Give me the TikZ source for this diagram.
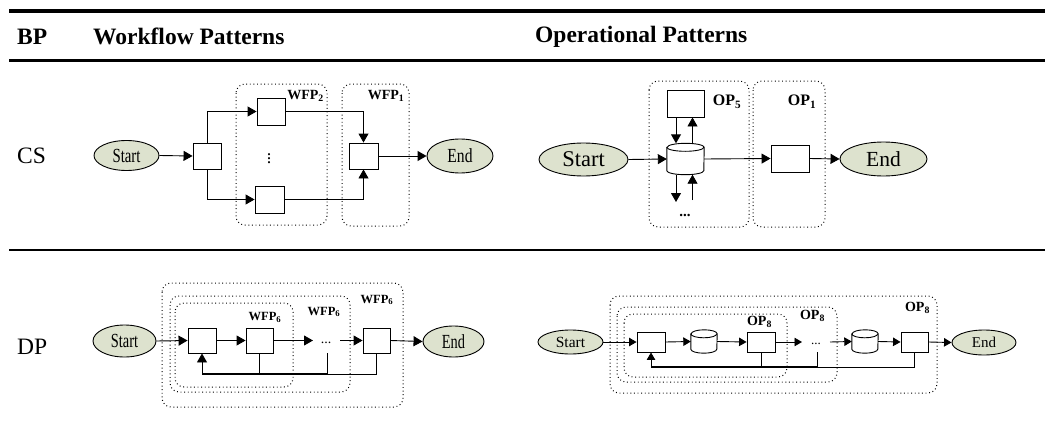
\documentclass[tikz,border=0pt]{standalone}
\usepackage{fontspec}
\setmainfont{Liberation Serif}
\usepackage{graphicx}
\usetikzlibrary{shapes.geometric,arrows.meta}
\definecolor{termfill}{RGB}{221,226,206}
\newcommand\cnd[2]{\scalebox{#1}[1]{#2}}
% cylinder drawn on an invisible rectangle node: #1 node name, #2 half width
\newcommand\cyldraw[2]{%
  \draw[ln,fill=white] ([yshift=-4pt]#1.north west) -- ([yshift=4pt]#1.south west)
    arc[start angle=180,end angle=360,x radius=#2,y radius=4pt]
    -- ([yshift=-4pt]#1.north east)
    arc[start angle=0,end angle=180,x radius=#2,y radius=4pt] -- cycle;
  \draw[ln] ([yshift=-4pt]#1.north west)
    arc[start angle=180,end angle=360,x radius=#2,y radius=4pt];
}
\tikzset{
  ln/.style={line width=0.9pt},
  arr/.style={ln,-{Triangle[length=9pt,width=10pt]}},
  sarr/.style={ln,-{Triangle[length=7.5pt,width=8.5pt]}},
  box/.style={draw,fill=white,line width=0.9pt,inner sep=0pt},
  cylbox/.style={inner sep=0pt},
  term/.style={ellipse,draw,fill=termfill,line width=0.9pt,inner sep=0pt},
  grp/.style={line width=1pt,dash pattern=on 0.9pt off 2.7pt,rounded corners=9pt},
  glab/.style={inner sep=0pt,font=\bfseries\fontsize{#1}{#1}\selectfont},
  head/.style={anchor=west,inner sep=0pt,font=\bfseries\fontsize{23.5}{28}\selectfont},
  rowlab/.style={anchor=west,inner sep=0pt,font=\fontsize{23.5}{28}\selectfont},
  rule/.style={line width=#1}
}
\begin{document}
\begin{tikzpicture}[x=1pt,y=-1pt]
\useasboundingbox (0,0) rectangle (1045,439);
% rules
\coordinate (r1a) at (9,11);   \coordinate (r1b) at (1045,11);
\coordinate (r2a) at (9,60.7); \coordinate (r2b) at (1045,60.7);
\coordinate (r3a) at (9,249.8);\coordinate (r3b) at (1045,249.8);
\draw[rule=3.3pt] (r1a) -- (r1b);
\draw[rule=2.7pt] (r2a) -- (r2b);
\draw[rule=1.8pt] (r3a) -- (r3b);
% header
\node[head] (hbp) at (17,36.5) {BP};
\node[head] (hwf) at (93,36.5) {Workflow Patterns};
\node[head] (hop) at (535,36.5) {Operational Patterns};
\node[rowlab] (lcs) at (17,156) {CS};
\node[rowlab] (ldp) at (17,346.5) {DP};

% ---------------- CS workflow ----------------
\draw[grp] (236,84) rectangle (327,225);
\draw[grp] (342,84) rectangle (409,226);
\node[glab=14] (lw2) at (305.5,95.5) {WFP\textsubscript{2}};
\node[glab=14] (lw1) at (386,96) {WFP\textsubscript{1}};
\node[term,minimum width=65pt,minimum height=30pt] (s1) at (126.5,155.5)
  {\fontsize{20}{20}\selectfont\cnd{0.74}{Start}};
\node[box,minimum width=28pt,minimum height=26pt] (a1) at (207,156) {};
\node[box,minimum width=28pt,minimum height=27pt] (a2) at (271,111.5) {};
\node[box,minimum width=29pt,minimum height=27pt] (a3) at (269.5,199.5) {};
\node[box,minimum width=29pt,minimum height=26pt] (a4) at (363.5,156) {};
\node[term,minimum width=66pt,minimum height=34pt] (e1) at (460,156)
  {\fontsize{20}{20}\selectfont\cnd{0.78}{End}};
\node[inner sep=0pt,font=\fontsize{18}{18}\selectfont] (vd) at (269,156) {$\vdots$};
\draw[arr] (s1.east) -- (a1.west);
\draw[arr] (a1.north) |- (a2.west);
\draw[arr] (a1.south) |- (a3.west);
\draw[arr] (a2.east) -| (a4.north);
\draw[arr] (a3.east) -| (a4.south);
\draw[arr] (a4.east) -- (e1.west);

% ---------------- CS operational ----------------
\draw[grp] (649,81) rectangle (749,227);
\draw[grp] (753,81) rectangle (825,227);
\node[glab=16] (lo5) at (727,101.5) {OP\textsubscript{5}};
\node[glab=16] (lo1) at (802,101.5) {OP\textsubscript{1}};
\node[term,minimum width=89pt,minimum height=33pt] (s2) at (583.5,159.5)
  {\fontsize{22.5}{22.5}\selectfont Start};
\node[cylbox,minimum width=37pt,minimum height=31pt] (cy) at (685.5,159) {};
\node[box,minimum width=37pt,minimum height=27pt] (t5) at (685.5,103.5) {};
\node[box,minimum width=38pt,minimum height=27pt] (b5) at (790,158.5) {};
\node[term,minimum width=87pt,minimum height=34pt] (e2) at (883.5,159)
  {\fontsize{21.5}{21.5}\selectfont End};
\node[inner sep=0pt,font=\bfseries\fontsize{15}{15}\selectfont] (od) at (685,215) {...};
\coordinate (dn) at (676,202);
\coordinate (up) at (692.5,200);
\draw[arr] (s2.east) -- (cy.west);
\cyldraw{cy}{18.5pt}
\draw[arr] ([xshift=-9.5pt]t5.south) -- ([xshift=-9.5pt]cy.north);
\draw[arr] ([xshift=7pt]cy.north) -- ([xshift=7pt]t5.south);
\draw[arr] ([xshift=-9.5pt]cy.south) -- (dn);
\draw[arr] (up) -- ([xshift=7pt]cy.south);
\draw[arr] (cy.east) -- (b5.west);
\draw[arr] (b5.east) -- (e2.west);

% ---------------- DP workflow ----------------
\draw[grp] (162,283) rectangle (403,407);
\draw[grp] (170,296) rectangle (350,392);
\draw[grp] (175,303) rectangle (293,387);
\node[glab=12.5] (lw6a) at (265,317.5) {WFP\textsubscript{6}};
\node[glab=12.5] (lw6b) at (324,312) {WFP\textsubscript{6}};
\node[glab=12.5] (lw6c) at (377,300) {WFP\textsubscript{6}};
\node[term,minimum width=63pt,minimum height=32pt] (s3) at (124.5,341)
  {\fontsize{20}{20}\selectfont\cnd{0.72}{Start}};
\node[box,minimum width=28pt,minimum height=25pt] (c1) at (202,340.5) {};
\node[box,minimum width=27pt,minimum height=25pt] (c2) at (259.5,340.5) {};
\node[box,minimum width=27pt,minimum height=25pt] (c3) at (376.5,340.5) {};
\node[term,minimum width=61pt,minimum height=31pt] (e3) at (453.5,341.5)
  {\fontsize{20}{20}\selectfont\cnd{0.72}{End}};
\node[inner sep=0pt,font=\fontsize{14}{14}\selectfont] (dd3) at (326,343) {...};
\coordinate (w1) at (313,340.5);
\coordinate (w2) at (340,340.5);
\coordinate (fl) at (202,374);
\coordinate (fd) at (327,353);
\draw[arr] (s3.east) -- (c1.west);
\draw[arr] (c1.east) -- (c2.west);
\draw[arr] (c2.east) -- (w1);
\draw[arr] (w2) -- (c3.west);
\draw[arr] (c3.east) -- (e3.west);
\draw[arr] (c3.south) |- (fl) -- (c1.south);
\draw[ln] (c2.south) -- (c2.south |- fl);
\draw[ln] (fd) -- (fd |- fl);
\draw[line width=1.6pt] (fl) -- (fd |- fl);

% ---------------- DP operational ----------------
\draw[grp] (610,296) rectangle (937,393);
\draw[grp] (617,307) rectangle (837,382);
\draw[grp] (624,314) rectangle (787,377);
\node[glab=14] (lo8a) at (759.5,322) {OP\textsubscript{8}};
\node[glab=14] (lo8b) at (812.5,316) {OP\textsubscript{8}};
\node[glab=14] (lo8c) at (917.5,308) {OP\textsubscript{8}};
\node[term,minimum width=65pt,minimum height=24pt] (s4) at (570.5,342)
  {\fontsize{15.5}{15.5}\selectfont Start};
\node[box,minimum width=28pt,minimum height=20pt] (d1) at (651,342) {};
\node[cylbox,minimum width=26pt,minimum height=23pt] (q1) at (704,341.5) {};
\node[box,minimum width=28pt,minimum height=20pt] (d2) at (761,342) {};
\node[cylbox,minimum width=26pt,minimum height=23pt] (q2) at (865,341.5) {};
\node[box,minimum width=27pt,minimum height=20pt] (d3) at (914.5,342) {};
\node[term,minimum width=64pt,minimum height=25pt] (e4) at (984,342.5)
  {\fontsize{15}{15}\selectfont End};
\node[inner sep=0pt,font=\fontsize{13}{13}\selectfont] (dd4) at (816,344) {...};
\coordinate (v1) at (802,342);
\coordinate (v2) at (830,342);
\coordinate (gl) at (651,367);
\coordinate (gd) at (817,352);
\cyldraw{q1}{13pt}
\cyldraw{q2}{13pt}
\draw[sarr] (s4.east) -- (d1.west);
\draw[sarr] (d1.east) -- (q1.west);
\draw[sarr] (q1.east) -- (d2.west);
\draw[sarr] (d2.east) -- (v1);
\draw[sarr] (v2) -- (q2.west);
\draw[sarr] (q2.east) -- (d3.west);
\draw[sarr] (d3.east) -- (e4.west);
\draw[sarr] (d3.south) |- (gl) -- (d1.south);
\draw[ln] (d2.south) -- (d2.south |- gl);
\draw[ln] (gd) -- (gd |- gl);
\draw[line width=1.5pt] (gl) -- (gd |- gl);
\end{tikzpicture}
\end{document}
